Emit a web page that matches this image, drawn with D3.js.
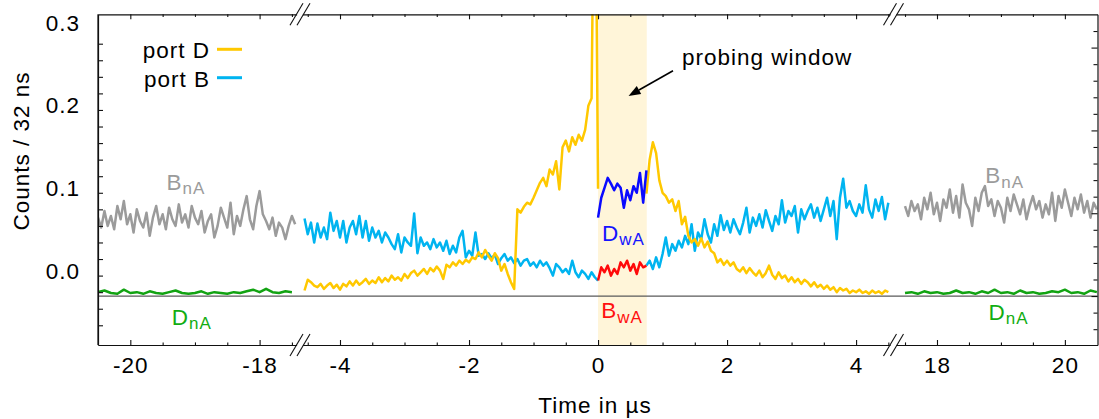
<!DOCTYPE html>
<html><head><meta charset="utf-8">
<script src="https://cdn.jsdelivr.net/npm/d3@7"></script>
<style>
body{margin:0;background:#fff}
text{font-family:"Liberation Sans",Arial,Helvetica,sans-serif;font-size:22.5px;letter-spacing:1px;fill:#000}
</style>
</head><body>
<svg id="chart" width="1099" height="419"></svg>
<script>
// ---------- DATA (counts / 32 ns) ----------
const binStep = 0.05;        // µs between plotted bins
const greenStep = 0.1;

// far-left segment (no atoms), t from -20.5 µs
const leftStart = -20.5;
const bnaLeft = [0.070,0.058,0.078,0.060,0.072,0.056,0.084,0.068,0.090,0.062,
  0.074,0.052,0.080,0.066,0.058,0.076,0.048,0.070,0.084,0.062,
  0.074,0.056,0.082,0.068,0.060,0.086,0.064,0.074,0.058,0.084,
  0.070,0.062,0.078,0.052,0.066,0.074,0.046,0.060,0.082,0.070,
  0.058,0.088,0.050,0.072,0.060,0.080,0.096,0.068,0.056,0.084,
  0.102,0.074,0.066,0.056,0.070,0.048,0.064,0.058,0.044,0.060,
  0.072,0.062];
const dnaLeft = [-0.020,-0.018,-0.021,-0.022,-0.017,-0.021,-0.020,-0.022,-0.019,-0.021,
  -0.022,-0.020,-0.018,-0.021,-0.022,-0.021,-0.019,-0.022,-0.020,-0.021,
  -0.022,-0.020,-0.021,-0.019,-0.017,-0.020,-0.016,-0.020,-0.021,-0.019,-0.020];

// central segment, t from -4.55 µs to 0
const centerStart = -4.55;
const portDBefore = [-0.018,-0.005,-0.008,-0.012,-0.014,-0.010,-0.016,-0.012,-0.009,-0.015,
  -0.011,-0.017,-0.010,-0.013,-0.007,-0.012,-0.006,-0.011,-0.008,-0.004,
  -0.010,-0.006,-0.009,-0.002,-0.008,-0.003,-0.007,0.000,-0.005,-0.002,
  -0.006,0.002,-0.003,0.003,0.006,0.000,0.004,0.008,0.002,0.009,
  0.005,0.011,0.006,-0.004,0.013,0.010,0.016,0.012,0.018,0.014,
  0.019,0.016,0.022,0.020,0.028,0.022,0.031,0.024,0.018,0.027,
  0.021,0.006,0.014,0.002,-0.008,-0.016,0.080,0.076,0.083,0.088,
  0.086,0.094,0.103,0.112,0.118,0.108,0.128,0.122,0.138,0.104,
  0.155,0.163,0.150,0.167,0.158,0.170,0.163,0.176,0.205,0.214,
  0.600,0.105];
const portBBefore = [0.069,0.050,0.064,0.040,0.063,0.046,0.058,0.044,0.076,0.054,
  0.066,0.046,0.066,0.040,0.058,0.066,0.050,0.072,0.046,0.066,
  0.042,0.058,0.046,0.054,0.040,0.052,0.046,0.038,0.032,0.050,
  0.028,0.046,0.040,0.036,0.075,0.027,0.046,0.036,0.040,0.032,
  0.044,0.034,0.040,0.030,0.042,0.026,0.036,0.028,0.046,0.054,
  0.022,0.030,0.024,0.052,0.024,0.026,0.020,0.027,0.021,0.025,
  0.014,0.021,0.026,0.018,0.022,0.015,0.020,0.012,0.018,0.020,
  0.012,0.016,0.010,0.018,0.012,0.016,0.009,0.000,0.014,0.010,
  0.004,0.008,0.002,0.018,0.004,-0.002,0.006,0.002,-0.004,0.004,
  -0.002,-0.006];

// probing window, t from 0 to 0.75 µs
const windowStart = 0;
const windowRange = [0, 0.755];
const dwa = [0.070,0.094,0.106,0.118,0.111,0.103,0.111,0.106,0.082,0.103,0.091,0.108,0.100,0.124,0.088,0.127];
const bwa = [-0.006,0.010,0.004,0.012,0.000,0.008,0.002,0.016,0.010,0.018,0.006,0.014,0.002,0.016,0.010,0.012];

// after window, t from 0.75 µs to 4.5 µs
const afterStart = 0.75;
const portDAfter = [0.099,0.140,0.161,0.148,0.115,0.100,0.096,0.088,0.092,0.078,
  0.090,0.062,0.071,0.048,0.040,0.044,0.036,0.045,0.034,0.041,
  0.030,0.027,0.016,0.020,0.013,0.018,0.012,0.016,0.008,0.005,
  0.010,0.003,0.009,0.004,0.000,0.006,-0.002,0.003,0.012,0.001,
  -0.004,0.004,-0.003,0.000,-0.007,-0.002,-0.008,-0.004,-0.010,-0.005,
  -0.008,-0.013,-0.008,-0.014,-0.011,-0.016,-0.012,-0.017,-0.014,-0.020,
  -0.015,-0.018,-0.016,-0.021,-0.018,-0.020,-0.017,-0.021,-0.019,-0.022,
  -0.018,-0.021,-0.019,-0.022,-0.018,-0.020];
const portBAfter = [0.012,0.018,0.008,0.022,0.010,0.026,0.046,0.024,0.038,0.030,
  0.042,0.034,0.048,0.038,0.062,0.030,0.052,0.044,0.068,0.050,
  0.040,0.062,0.048,0.073,0.055,0.066,0.052,0.068,0.058,0.050,
  0.064,0.082,0.052,0.070,0.060,0.074,0.058,0.079,0.066,0.054,
  0.072,0.062,0.091,0.064,0.078,0.072,0.084,0.052,0.080,0.068,
  0.078,0.086,0.070,0.082,0.066,0.080,0.094,0.072,0.090,0.044,
  0.094,0.117,0.082,0.090,0.078,0.072,0.086,0.076,0.109,0.080,
  0.070,0.092,0.078,0.095,0.068,0.088];

// far-right segment, t from 17.5 µs
const rightStart = 17.5;
const bnaRight = [0.084,0.072,0.090,0.078,0.086,0.068,0.094,0.080,0.100,0.074,
  0.088,0.066,0.092,0.082,0.104,0.076,0.096,0.070,0.110,0.088,
  0.080,0.060,0.094,0.078,0.100,0.108,0.084,0.092,0.072,0.090,
  0.082,0.064,0.094,0.078,0.098,0.086,0.074,0.092,0.068,0.084,
  0.096,0.080,0.090,0.070,0.086,0.074,0.100,0.066,0.096,0.082,
  0.104,0.088,0.072,0.094,0.080,0.098,0.076,0.090,0.070,0.088,0.080];
const dnaRight = [-0.021,-0.020,-0.022,-0.019,-0.021,-0.020,-0.022,-0.021,-0.018,-0.021,
  -0.020,-0.022,-0.019,-0.021,-0.017,-0.021,-0.020,-0.022,-0.018,-0.021,
  -0.020,-0.022,-0.021,-0.019,-0.020,-0.017,-0.021,-0.020,-0.022,-0.018,-0.020];

// axes
const segDomains = [[-20.5,-17.375],[-4.62,4.58],[17.32,20.51]];
const xMajor = [[-20,-18],[-4,-2,0,2,4],[18,20]];
const xMinor = [[-19.5,-19,-18.5,-17.5],[-4.5,-3.5,-3,-2.5,-1.5,-1,-0.5,0.5,1,1.5,2.5,3,3.5,4.5],[17.5,18.5,19,19.5]];
const yDomain = [-0.0838, 0.3155];
const yMajor = [0, 0.1, 0.2, 0.3];
const yMinor = [-0.06,-0.04,-0.02,0.02,0.04,0.06,0.08,0.12,0.14,0.16,0.18,0.22,0.24,0.26,0.28];
const rightAxisOffset = 0.0247;          // right axis counts from the zero line
const rMajor = [0, 0.1, 0.2, 0.3];
const rMinor = [-0.04,-0.02,0.02,0.04,0.06,0.08,0.12,0.14,0.16,0.18,0.22,0.24,0.26,0.28,0.32];
const zeroLineValue = 0;                 // on the right axis

const colors = {D:"#ffc800", B:"#00b4f0", dwa:"#0a0aff", bwa:"#ff0a0a", gray:"#9b9b9b", green:"#12a312", shade:"#fff5d9"};

const seriesLabels = [
  {main:"B", sub:"nA", t:-19.44, v:0.1034, color:"#9b9b9b"},
  {main:"B", sub:"nA", t:18.755, v:0.1114, color:"#9b9b9b"},
  {main:"D", sub:"nA", t:-19.36, v:-0.0596, color:"#12ad12"},
  {main:"D", sub:"nA", t:18.807, v:-0.0536, color:"#12ad12"},
  {main:"D", sub:"wA", t:0.06, v:0.0421, color:"#1414ff"},
  {main:"B", sub:"wA", t:0.05, v:-0.0516, color:"#ff1010"}
];
const arrowNote = {text:"probing window", textT:1.30, textV:0.2544, tailT:1.162, tailV:0.2474, tipT:0.473, tipV:0.2169};

// ---------- LAYOUT ----------
const L = 98, R = 1097.5, T = 14.3, B = 345;
const segPix = [L, 300, 893.5, R];

const svg = d3.select("#chart");
const xs = segDomains.map((d,i)=>d3.scaleLinear().domain(d).range([segPix[i], segPix[i+1]]));
const segOf = t => t < -10 ? 0 : (t < 10 ? 1 : 2);
const X = t => xs[segOf(t)](t);
const y = d3.scaleLinear().domain(yDomain).range([B, T]);
const yR = d3.scaleLinear().domain([yDomain[0]+rightAxisOffset, yDomain[1]+rightAxisOffset]).range([B, T]);

const pts = (t0, step, vals) => vals.map((v,i)=>[+(t0 + i*step).toFixed(4), v]);

svg.append("defs").append("clipPath").attr("id","clip")
  .append("rect").attr("x",L).attr("y",T).attr("width",R-L).attr("height",B-T);

// shaded probing window
svg.append("rect")
  .attr("x", X(windowRange[0])).attr("y", T)
  .attr("width", X(windowRange[1]) - X(windowRange[0])).attr("height", B-T)
  .attr("fill", colors.shade);

// zero line
svg.append("line").attr("x1",L).attr("x2",R)
  .attr("y1",yR(zeroLineValue)).attr("y2",yR(zeroLineValue))
  .attr("stroke","#5a5a5a").attr("stroke-width",1.3);

const line = d3.line().x(d=>X(d[0])).y(d=>y(d[1]));
const plot = svg.append("g").attr("clip-path","url(#clip)");
const draw = (data, color) => plot.append("path").datum(data)
  .attr("d", line).attr("fill","none").attr("stroke",color)
  .attr("stroke-width",2.5).attr("stroke-linejoin","round");

draw(pts(leftStart, binStep, bnaLeft), colors.gray);
draw(pts(leftStart, greenStep, dnaLeft), colors.green);
draw(pts(rightStart, binStep, bnaRight), colors.gray);
draw(pts(rightStart, greenStep, dnaRight), colors.green);
draw(pts(centerStart, binStep, portBBefore), colors.B);
draw(pts(afterStart, binStep, portBAfter), colors.B);
draw(pts(windowStart, binStep, bwa), colors.bwa);
draw(pts(centerStart, binStep, portDBefore), colors.D);
draw(pts(afterStart, binStep, portDAfter), colors.D);
draw(pts(windowStart, binStep, dwa), colors.dwa);

// ---------- AXES ----------
const fmtX = d => String(d);
const styleAxis = g => { g.attr("font-size",null).attr("font-family",null).attr("color","#111");
  g.selectAll(".tick line").attr("stroke-width",1.1); g.select(".domain").attr("stroke-width",1.2); };

xs.forEach((sc,i)=>{
  svg.append("g").attr("transform",`translate(0,${B})`)
    .call(d3.axisBottom(sc).tickValues(xMajor[i]).tickSize(-5).tickSizeOuter(0).tickPadding(12).tickFormat(fmtX))
    .call(styleAxis);
  svg.append("g").attr("transform",`translate(0,${B})`)
    .call(d3.axisBottom(sc).tickValues(xMinor[i]).tickSize(-2.6).tickSizeOuter(0).tickFormat(""))
    .call(styleAxis).call(g=>g.select(".domain").remove());
  svg.append("g").attr("transform",`translate(0,${T})`)
    .call(d3.axisTop(sc).tickValues(xMajor[i]).tickSize(-5).tickSizeOuter(0).tickFormat(""))
    .call(styleAxis);
  svg.append("g").attr("transform",`translate(0,${T})`)
    .call(d3.axisTop(sc).tickValues(xMinor[i]).tickSize(-2.6).tickSizeOuter(0).tickFormat(""))
    .call(styleAxis).call(g=>g.select(".domain").remove());
});

const yAxisG = svg.append("g").attr("transform",`translate(${L},0)`)
  .call(d3.axisLeft(y).tickValues(yMajor).tickSize(-5).tickSizeOuter(0).tickPadding(18).tickFormat(d3.format(".1f")))
  .call(styleAxis);
yAxisG.selectAll(".tick text").attr("dy","3px");
yAxisG.selectAll(".tick").filter(d=>d===0.3).select("line").remove();
svg.append("g").attr("transform",`translate(${L},0)`)
  .call(d3.axisLeft(y).tickValues(yMinor).tickSize(-5).tickSizeOuter(0).tickFormat(""))
  .call(styleAxis).call(g=>g.select(".domain").remove());

const rAxisG = svg.append("g").attr("transform",`translate(${R},0)`)
  .call(d3.axisRight(yR).tickValues(rMajor).tickSize(-6).tickSizeOuter(0).tickFormat(""))
  .call(styleAxis);
svg.append("g").attr("transform",`translate(${R},0)`)
  .call(d3.axisRight(yR).tickValues(rMinor).tickSize(-4).tickSizeOuter(0).tickFormat(""))
  .call(styleAxis).call(g=>g.select(".domain").remove());

// axis breaks
[segPix[1], segPix[2]].forEach(bx=>{
  [T, B].forEach(by=>{
    const c0 = bx - 3.5, c1 = bx + 3.5;
    svg.append("rect").attr("x",c0+0.6).attr("y",by-2).attr("width",c1-c0-1.2).attr("height",4).attr("fill","#fff");
    [c0,c1].forEach(c=>svg.append("line")
      .attr("x1",c-6.5).attr("y1",by+11).attr("x2",c+6.5).attr("y2",by-11)
      .attr("stroke","#111").attr("stroke-width",1.1));
  });
});

// axis titles
svg.append("text").attr("transform",`translate(29,151) rotate(-90)`)
  .attr("text-anchor","middle").text("Counts / 32 ns");
svg.append("text").attr("x",595).attr("y",413).attr("text-anchor","middle").text("Time in µs");

// legend
const legend = [{label:"port D", color:colors.D, y:58.3},{label:"port B", color:colors.B, y:86.7}];
legend.forEach(d=>{
  svg.append("text").attr("x",210).attr("y",d.y).attr("text-anchor","end").text(d.label);
  svg.append("line").attr("x1",217).attr("x2",242).attr("y1",d.y-9).attr("y2",d.y-9)
    .attr("stroke",d.color).attr("stroke-width",3);
});

// series labels with subscripts
seriesLabels.forEach(d=>{
  const t = svg.append("text").attr("x",X(d.t)).attr("y",y(d.v)).style("fill",d.color);
  t.append("tspan").text(d.main).style("fill",d.color);
  t.append("tspan").attr("dy",4.5).style("font-size","17px").style("fill",d.color).text(d.sub);
});

// annotation arrow
const ax1 = X(arrowNote.tailT), ay1 = y(arrowNote.tailV), ax2 = X(arrowNote.tipT), ay2 = y(arrowNote.tipV);
const ang = Math.atan2(ay2-ay1, ax2-ax1), hl = 12, hw = 4.5;
const bxp = ax2 - hl*Math.cos(ang), byp = ay2 - hl*Math.sin(ang);
svg.append("line").attr("x1",ax1).attr("y1",ay1).attr("x2",bxp).attr("y2",byp).attr("stroke","#000").attr("stroke-width",1.6);
svg.append("path").attr("d",`M${ax2},${ay2}L${bxp - hw*Math.sin(ang)},${byp + hw*Math.cos(ang)}L${bxp + hw*Math.sin(ang)},${byp - hw*Math.cos(ang)}Z`).attr("fill","#000");
svg.append("text").attr("x",X(arrowNote.textT)).attr("y",y(arrowNote.textV)).text(arrowNote.text);

// left / right borders
svg.append("line").attr("x1",L).attr("x2",L).attr("y1",T).attr("y2",B).attr("stroke","#111").attr("stroke-width",1.2);
</script>
</body></html>
